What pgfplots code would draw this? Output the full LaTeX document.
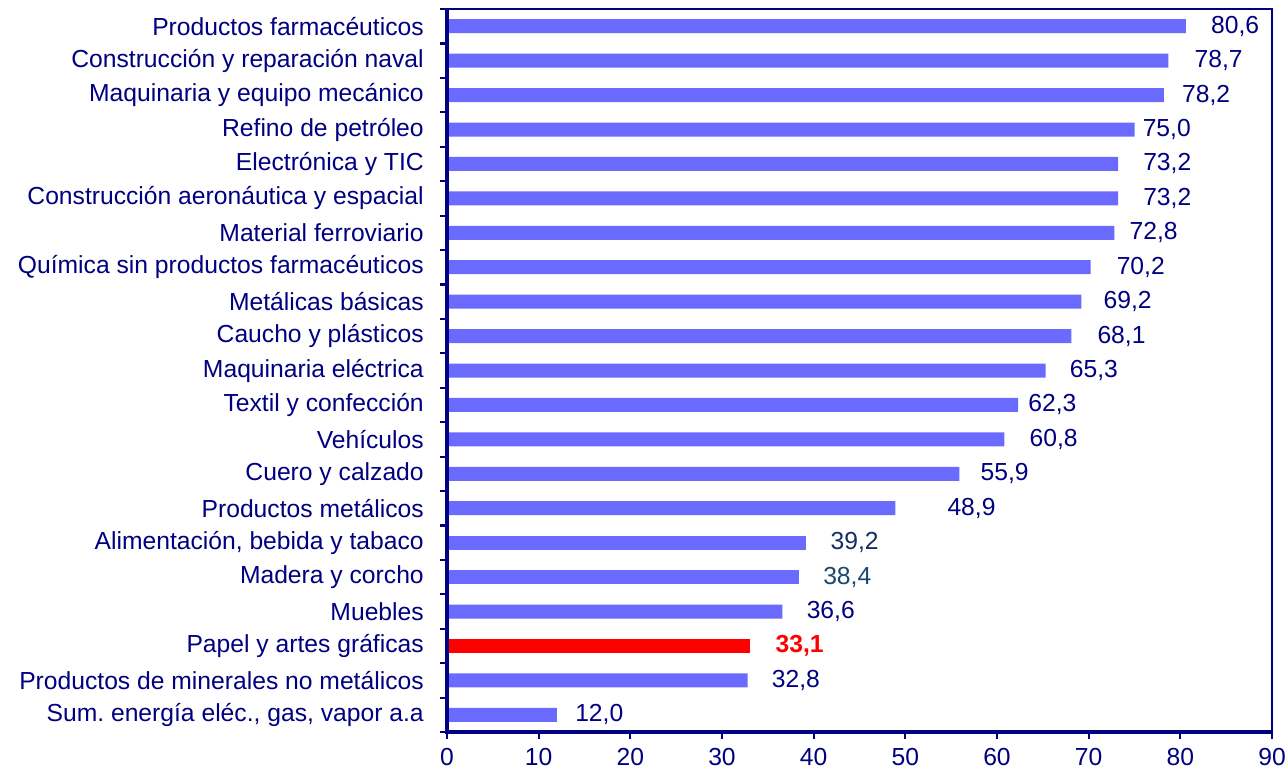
\documentclass[border=0pt]{standalone}
\usepackage{fontspec}
\setmainfont{Liberation Sans}
\usepackage{pgfplots}
\pgfplotsset{compat=1.18}
\usepackage{pgfplotstable}
\definecolor{navy}{RGB}{0,0,128}
\definecolor{barblue}{RGB}{106,106,255}
\definecolor{labA}{RGB}{20,45,100}
\definecolor{labB}{RGB}{25,72,110}

\pgfplotstableread{
y val dx
0 80.6 25
1 78.7 26
2 78.2 18
3 75.0 8
4 73.2 25
5 73.2 25
6 72.8 15
7 70.2 26
8 69.2 22
9 68.1 26
10 65.3 24
11 62.3 10
12 60.8 25
13 55.9 21
14 48.9 52
17 36.6 24
19 32.8 24
20 12.0 18
}\bluedata

\pgfplotstableread{
y val dx
15 39.2 24
}\bluedataA

\pgfplotstableread{
y val dx
16 38.4 24
}\bluedataB

\pgfplotstableread{
y val dx
18 33.1 25
}\reddata

\pgfplotsset{
  vlab/.style={
    visualization depends on={\thisrow{dx} \as \dx},
    nodes near coords={\pgfmathprintnumber[fixed,fixed zerofill,precision=1,use comma,assume math mode=true]{\pgfplotspointmeta}},
    nodes near coords style={anchor=west, inner sep=0pt, xshift=\dx*0.75pt, text=#1, font=\fontsize{18.5pt}{22pt}\selectfont},
  }
}

\begin{document}
\begin{tikzpicture}
\begin{axis}[
  scale only axis, width=618.75pt, height=542.25pt,
  at={(0,0)}, anchor=south west,
  xbar, bar width=10.5pt, bar shift=0pt,
  xmin=0, xmax=90, ymin=-0.5, ymax=20.5, y dir=reverse,
  xtick={0,10,...,90},
  ytick={0,...,20},
  xtick pos=bottom, ytick pos=left,
  yticklabels={Productos farmacéuticos, Construcción y reparación naval, Maquinaria y equipo mecánico, {Refino de petróleo\ }, Electrónica y TIC, Construcción aeronáutica y espacial, Material ferroviario, Química sin productos farmacéuticos, Metálicas básicas, Caucho y plásticos, Maquinaria eléctrica, Textil y confección, Vehículos, Cuero y calzado, Productos metálicos, {Alimentación, bebida y tabaco}, Madera y corcho, Muebles, Papel y artes gráficas, Productos de minerales no metálicos, {Sum.\ energía eléc., gas, vapor a.a}},
  minor ytick={-0.5,0.5,...,20.5},
  tick align=outside,
  major tick length=5.25pt, minor tick length=5.25pt,
  tick style={navy, line width=1.6pt},
  major y tick style={draw=none},
  axis line style={navy, line width=0.8pt},
  tick label style={font=\fontsize{18.5pt}{22pt}\selectfont, text=navy},
  yticklabel style={inner xsep=0pt, xshift=-12pt},
  xticklabel style={inner ysep=6.5pt},
  /pgf/number format/assume math mode=true,
  clip=false,
]
\addplot[fill=barblue, draw=none, vlab=navy] table[x=val, y=y] {\bluedata};
\addplot[fill=barblue, draw=none, vlab=labA] table[x=val, y=y] {\bluedataA};
\addplot[fill=barblue, draw=none, vlab=labB] table[x=val, y=y] {\bluedataB};
\addplot[fill=red, draw=none, vlab=red, nodes near coords style={font=\fontsize{18.5pt}{22pt}\selectfont\bfseries}] table[x=val, y=y] {\reddata};
\draw[navy, line width=2.6pt] (axis description cs:0,1) -- (axis description cs:0,0) -- (axis description cs:1,0);
\end{axis}
\pgfresetboundingbox
\useasboundingbox (-335.25pt,-30pt) rectangle (630.75pt,549pt);
\end{tikzpicture}
\end{document}
